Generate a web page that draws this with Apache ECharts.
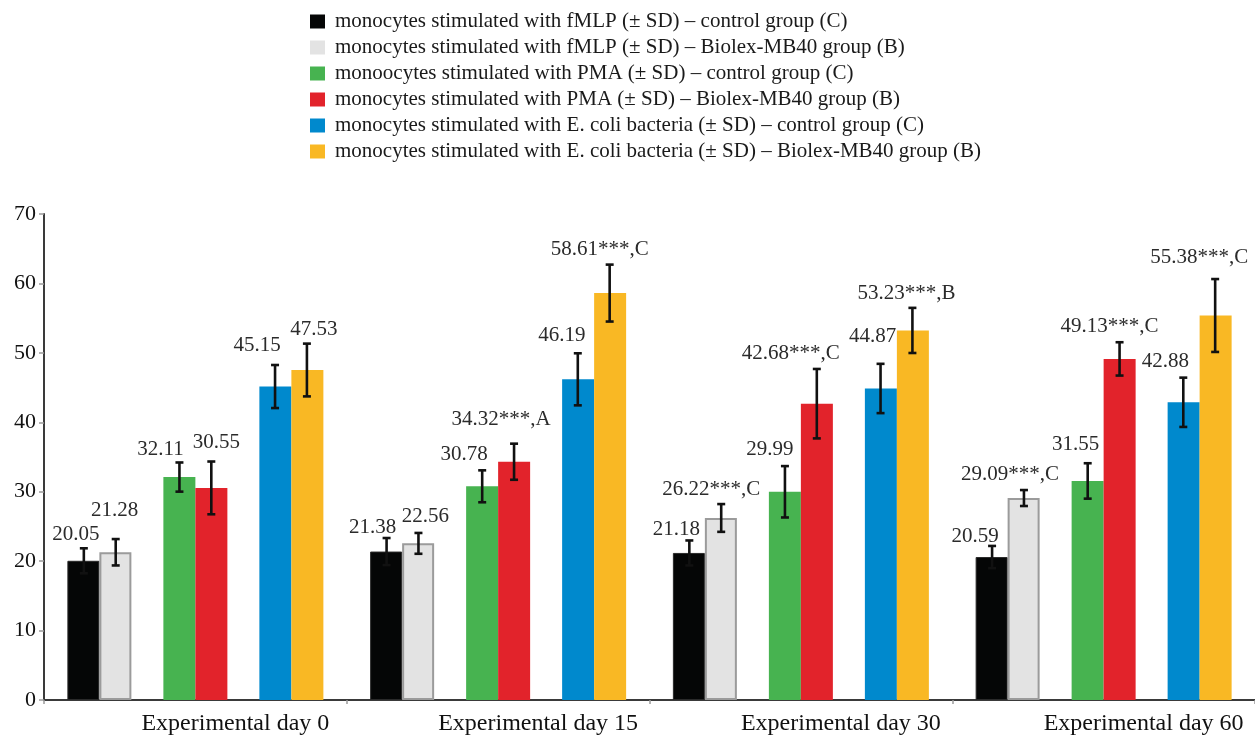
<!DOCTYPE html>
<html>
<head>
<meta charset="utf-8">
<script src="https://cdn.jsdelivr.net/npm/echarts@6/dist/echarts.min.js"></script>
<style>
html,body{margin:0;padding:0;background:#fff;}
#chart{width:1255px;height:737px;}
</style>
</head>
<body>
<div id="chart"></div>
<script>
// ---- data ----
var categories = ['Experimental day 0', 'Experimental day 15', 'Experimental day 30', 'Experimental day 60'];
var yTicks = [0, 10, 20, 30, 40, 50, 60, 70];

var seriesNames = [
  'monocytes stimulated with fMLP (\u00B1 SD) \u2013 control group (C)',
  'monocytes stimulated with fMLP (\u00B1 SD) \u2013 Biolex-MB40 group (B)',
  'monoocytes stimulated with PMA (\u00B1 SD) \u2013 control group (C)',
  'monocytes stimulated with PMA (\u00B1 SD) \u2013 Biolex-MB40 group (B)',
  'monocytes stimulated with E. coli bacteria (\u00B1 SD) \u2013 control group (C)',
  'monocytes stimulated with E. coli bacteria (\u00B1 SD) \u2013 Biolex-MB40 group (B)'
];

var fmlpControl   = [20.05, 21.38, 21.18, 20.59];
var fmlpBiolex    = [21.28, 22.56, 26.22, 29.09];
var pmaControl    = [32.11, 30.78, 29.99, 31.55];
var pmaBiolex     = [30.55, 34.32, 42.68, 49.13];
var ecoliControl  = [45.15, 46.19, 44.87, 42.88];
var ecoliBiolex   = [47.53, 58.61, 53.23, 55.38];

var fmlpControlSD  = [1.8, 1.95, 1.8, 1.6];
var fmlpBiolexSD   = [1.9, 1.5, 2.0, 1.15];
var pmaControlSD   = [2.1, 2.3, 3.7, 2.55];
var pmaBiolexSD    = [3.8, 2.6, 5.0, 2.4];
var ecoliControlSD = [3.1, 3.75, 3.55, 3.55];
var ecoliBiolexSD  = [3.8, 4.1, 3.25, 5.25];

var fmlpControlMark  = ['', '', '', ''];
var fmlpBiolexMark   = ['', '', '***,C', '***,C'];
var pmaControlMark   = ['', '', '', ''];
var pmaBiolexMark    = ['', '***,A', '***,C', '***,C'];
var ecoliControlMark = ['', '', '', ''];
var ecoliBiolexMark  = ['', '***,C', '***,B', '***,C'];

// ---- layout / style (not data) ----
var colors = ['#050606', '#e3e3e3', '#47b350', '#e2232b', '#0089cd', '#f9b824'];
var slots = [0, 1, 3, 4, 6, 7];           // bar slot within a group of 8
var labelDx = [[-8,-14,-13,-17],[-1,7,-10,-14],[-19,-18,-15,-12],[5,-13,-26,-10],[-18,-16,-8,-18],[7,-10,-6,-16]];
var labelGap = [[14,11,11,9],[29,16,15,16],[13,16,17,19],[19,24,15,16],[20,18,27,16],[14,15,14,22]];

var values = [fmlpControl, fmlpBiolex, pmaControl, pmaBiolex, ecoliControl, ecoliBiolex];
var sds = [fmlpControlSD, fmlpBiolexSD, pmaControlSD, pmaBiolexSD, ecoliControlSD, ecoliBiolexSD];
var marks = [fmlpControlMark, fmlpBiolexMark, pmaControlMark, pmaBiolexMark, ecoliControlMark, ecoliBiolexMark];

var FONT = '"Liberation Serif", "DejaVu Serif", serif';
var BAR_W = 32;

var series = [];
var slotSeries = [];
for (var s = 0; s < 8; s++) slotSeries.push(null);
for (var i = 0; i < 6; i++) slotSeries[slots[i]] = i;

for (var k = 0; k < 8; k++) {
  var idx = slotSeries[k];
  if (idx === null) {
    series.push({
      type: 'bar', name: '_gap' + k, data: categories.map(function(){ return null; }),
      barWidth: BAR_W, barGap: '0%', silent: true, itemStyle: {color: 'transparent'}
    });
  } else {
    var st = {color: colors[idx]};
    if (idx === 1) { st.borderColor = '#9b9b9b'; st.borderWidth = 2; }
    if (idx === 0) { st.borderColor = '#2a2a2a'; st.borderWidth = 1; }
    series.push({
      type: 'bar', name: seriesNames[idx], data: values[idx].slice(),
      barWidth: BAR_W, barGap: '0%', itemStyle: st, z: 2
    });
  }
}

// error bars + value labels
var errData = [];
for (var i = 0; i < 6; i++) {
  for (var c = 0; c < categories.length; c++) {
    errData.push([c, values[i][c], sds[i][c], i]);
  }
}
series.push({
  type: 'custom', name: '_err', z: 5, silent: true,
  data: errData,
  encode: {x: 0, y: 1},
  renderItem: function (params, api) {
    var c = api.value(0), v = api.value(1), sd = api.value(2), si = api.value(3);
    var band = api.size([1, 0])[0];
    var bw = band * (256 / 304) / 8;
    var center = api.coord([c, v]);
    var x = center[0] + (slots[si] - 3.5) * bw;
    var top = api.coord([c, v + sd])[1];
    var bot = api.coord([c, v - sd])[1];
    var cap = 4;
    var ls = {stroke: '#111', lineWidth: 2.6};
    var label = values[si][c].toFixed(2) + marks[si][c];
    return {
      type: 'group',
      children: [
        {type: 'line', shape: {x1: x, y1: top, x2: x, y2: bot}, style: ls},
        {type: 'line', shape: {x1: x - cap, y1: top, x2: x + cap, y2: top}, style: ls},
        {type: 'line', shape: {x1: x - cap, y1: bot, x2: x + cap, y2: bot}, style: ls},
        {type: 'text', style: {
          x: x + labelDx[si][c], y: top - labelGap[si][c], text: label,
          align: 'center', verticalAlign: 'middle',
          font: '21px ' + FONT, fill: '#2b2b2b'
        }}
      ]
    };
  }
});

var option = {
  backgroundColor: '#ffffff',
  animation: false,
  legend: {
    orient: 'vertical', left: 305, top: 6,
    itemWidth: 15, itemHeight: 14, itemGap: 5,
    icon: 'rect',
    data: seriesNames.map(function (n) { return {name: n, itemStyle: {borderWidth: 0}}; }),
    textStyle: {fontFamily: FONT, fontSize: 21, lineHeight: 21, color: '#1a1a1a', padding: [0, 0, 0, 5]}
  },
  grid: {left: 44, right: -5, top: 214, bottom: 37, containLabel: false},
  xAxis: {
    type: 'category', data: categories,
    axisLine: {lineStyle: {color: '#3a3a3a', width: 2}},
    axisTick: {show: true, length: 4, lineStyle: {color: '#9a9a9a', width: 1.5}},
    axisLabel: {fontFamily: FONT, fontSize: 24, color: '#111', margin: 12, padding: [0, 0, 0, 80], interval: 0}
  },
  yAxis: {
    type: 'value', min: yTicks[0], max: yTicks[yTicks.length - 1], interval: 10,
    splitLine: {show: false},
    axisLine: {show: true, lineStyle: {color: '#3a3a3a', width: 2}},
    axisTick: {show: true, length: 5, lineStyle: {color: '#9a9a9a', width: 1.5}},
    axisLabel: {fontFamily: FONT, fontSize: 22, color: '#111', margin: 8}
  },
  series: series
};

var chart = echarts.init(document.getElementById('chart'), null, {renderer: 'canvas'});
chart.setOption(option);
</script>
</body>
</html>
